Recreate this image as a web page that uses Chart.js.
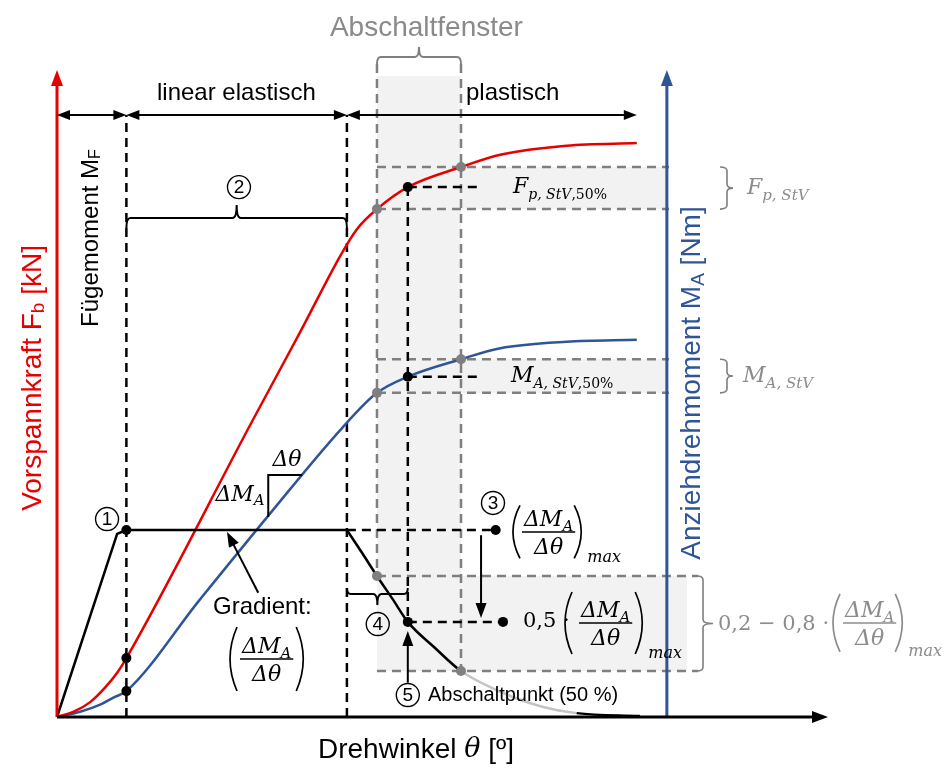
<!DOCTYPE html>
<html>
<head>
<meta charset="utf-8">
<script src="https://cdn.jsdelivr.net/npm/chart.js@4.4.1/dist/chart.umd.min.js"></script>
<style>
  html, body { margin: 0; padding: 0; background: #fff; }
  #wrap { width: 947px; height: 783px; }
</style>
</head>
<body>
<div id="wrap"><canvas id="tightening" width="947" height="783"></canvas></div>
<script>
// schematic curves (theta 0..100, value 0..100)
const redTheta = [0, 2.3, 4.3, 6.2, 7.9, 9, 25.4, 31.5, 36.8, 38.9, 41.5, 45.5, 52.4, 57.5, 66.1, 75.2];
const redForce = [0, 0.9, 2.3, 4.5, 7.0, 9.1, 45.9, 59.4, 71.4, 75.4, 78.5, 81.9, 85.0, 86.9, 88.3, 88.7];

const blueTheta = [0, 3.0, 5.6, 7.5, 9, 18.5, 27.6, 37.0, 41.5, 45.5, 52.4, 57.5, 66.1, 75.2];
const blueTorque = [0, 0.8, 1.9, 3.1, 4.0, 18.1, 31.4, 44.7, 50.1, 52.6, 55.3, 57.0, 58.0, 58.3];

const gradTheta = [0, 7.8, 9, 37.6, 39.6, 41.5, 43.6, 45.5, 49.0, 52.4, 57.5, 62.6, 67.4, 75.6];
const gradValue = [0, 28.3, 28.9, 28.9, 25.3, 21.8, 18.1, 14.7, 10.7, 7.1, 3.9, 1.7, 0.6, 0.15];

// marked angles
const jointTheta = 9;            // end of Fügemoment
const elasticEnd = 37.6;         // end of linear elastic range
const windowTheta = [41.5, 52.4]; // Abschaltfenster
const stopTheta = 45.5;          // Abschaltpunkt (50 %)
const curveEnd = 75.2;
const torqueAxis = 79.1;
const fadeEnd = 67.4;

const SANS = '"Liberation Sans", Arial, sans-serif';
const SERIF = '"DejaVu Serif", serif';
const RED = '#e60000', BLUE = '#2f5597', GREY = '#7f7f7f', SHADE = '#f2f2f2', LIGHT = '#c4c4c4';

function at(xs, ys, t) { return ys[xs.indexOf(t)]; }
function pts(xs, ys) { return xs.map((t, i) => ({ x: t, y: ys[i] })); }

const riseEnd = gradTheta.indexOf(elasticEnd);
const gradMax = at(gradTheta, gradValue, elasticEnd);

const blackDots = [
  { x: jointTheta, y: at(redTheta, redForce, jointTheta) },
  { x: jointTheta, y: at(blueTheta, blueTorque, jointTheta) },
  { x: jointTheta, y: at(gradTheta, gradValue, jointTheta) },
  { x: stopTheta, y: at(redTheta, redForce, stopTheta) },
  { x: stopTheta, y: at(blueTheta, blueTorque, stopTheta) },
  { x: stopTheta, y: at(gradTheta, gradValue, stopTheta) },
  { x: 56.9, y: gradMax },
  { x: 57.85, y: at(gradTheta, gradValue, stopTheta) }
];
const greyDots = [];
windowTheta.forEach(t => {
  greyDots.push({ x: t, y: at(redTheta, redForce, t) });
  greyDots.push({ x: t, y: at(blueTheta, blueTorque, t) });
  greyDots.push({ x: t, y: at(gradTheta, gradValue, t) });
});

// ---------- drawing helpers ----------
function seg(ctx, coords, color, width, dash) {
  ctx.save();
  ctx.strokeStyle = color; ctx.lineWidth = width; ctx.setLineDash(dash || []);
  ctx.beginPath();
  coords.forEach((p, i) => i ? ctx.lineTo(p[0], p[1]) : ctx.moveTo(p[0], p[1]));
  ctx.stroke();
  ctx.restore();
}

function head(ctx, x, y, ang, len, wid) {
  const c = Math.cos(ang), s = Math.sin(ang);
  ctx.beginPath();
  ctx.moveTo(x, y);
  ctx.lineTo(x - len * c + wid / 2 * s, y - len * s - wid / 2 * c);
  ctx.lineTo(x - len * c - wid / 2 * s, y - len * s + wid / 2 * c);
  ctx.closePath();
  ctx.fill();
}

function arrow(ctx, x1, y1, x2, y2, both, len, wid, color, width) {
  ctx.save();
  ctx.strokeStyle = color; ctx.fillStyle = color; ctx.lineWidth = width;
  const ang = Math.atan2(y2 - y1, x2 - x1);
  const c = Math.cos(ang), s = Math.sin(ang);
  const k = both ? len * 0.5 : 0;
  ctx.beginPath();
  ctx.moveTo(x1 + c * k, y1 + s * k);
  ctx.lineTo(x2 - c * len * 0.5, y2 - s * len * 0.5);
  ctx.stroke();
  head(ctx, x2, y2, ang, len, wid);
  if (both) head(ctx, x1, y1, ang + Math.PI, len, wid);
  ctx.restore();
}

function hbrace(ctx, x1, x2, ys, ye, yt, color, width) {
  const xm = (x1 + x2) / 2, r = 4;
  ctx.save();
  ctx.strokeStyle = color; ctx.lineWidth = width;
  ctx.beginPath();
  ctx.moveTo(x1, ye); ctx.quadraticCurveTo(x1, ys, x1 + r, ys);
  ctx.lineTo(xm - r, ys); ctx.quadraticCurveTo(xm, ys, xm, yt);
  ctx.quadraticCurveTo(xm, ys, xm + r, ys);
  ctx.lineTo(x2 - r, ys); ctx.quadraticCurveTo(x2, ys, x2, ye);
  ctx.stroke();
  ctx.restore();
}

function vbrace(ctx, y1, y2, xs, xe, xt, color, width) {
  const ym = (y1 + y2) / 2, r = 4;
  ctx.save();
  ctx.strokeStyle = color; ctx.lineWidth = width;
  ctx.beginPath();
  ctx.moveTo(xe, y1); ctx.quadraticCurveTo(xs, y1, xs, y1 + r);
  ctx.lineTo(xs, ym - r); ctx.quadraticCurveTo(xs, ym, xt, ym);
  ctx.quadraticCurveTo(xs, ym, xs, ym + r);
  ctx.lineTo(xs, y2 - r); ctx.quadraticCurveTo(xs, y2, xe, y2);
  ctx.stroke();
  ctx.restore();
}

// text pieces: [text, font, dy]
function runs(ctx, x, y, parts, color, align) {
  ctx.save();
  ctx.fillStyle = color; ctx.textAlign = 'left'; ctx.textBaseline = 'middle';
  let w = 0;
  parts.forEach(p => { ctx.font = p[1]; w += ctx.measureText(p[0]).width; });
  let cx = align === 'center' ? x - w / 2 : x;
  parts.forEach(p => {
    ctx.font = p[1];
    ctx.fillText(p[0], cx, y + (p[2] || 0));
    cx += ctx.measureText(p[0]).width;
  });
  ctx.restore();
  return w;
}

function rotated(ctx, x, y, parts, color) {
  ctx.save();
  ctx.translate(x, y);
  ctx.rotate(-Math.PI / 2);
  runs(ctx, 0, 0, parts, color, 'center');
  ctx.restore();
}

function circled(ctx, cx, cy, n) {
  ctx.save();
  ctx.strokeStyle = '#000'; ctx.lineWidth = 1.4;
  ctx.beginPath(); ctx.arc(cx, cy, 11.5, 0, 2 * Math.PI); ctx.stroke();
  ctx.fillStyle = '#000'; ctx.font = `19px ${SANS}`;
  ctx.textAlign = 'center'; ctx.textBaseline = 'middle';
  ctx.fillText(n, cx, cy + 1);
  ctx.restore();
}

function paren(ctx, x, ym, h, dir) {
  ctx.beginPath();
  ctx.moveTo(x + 7 * dir, ym - h / 2);
  ctx.quadraticCurveTo(x - 7 * dir, ym, x + 7 * dir, ym + h / 2);
  ctx.stroke();
}

// (ΔM_A / Δθ) with parentheses, x0 = leftmost point of the left parenthesis
function frac(ctx, x0, ym, h, gapL, gapR, color, withMax) {
  ctx.save();
  ctx.fillStyle = color; ctx.strokeStyle = color;
  const big = `italic 22px ${SERIF}`, sub = `italic 15px ${SERIF}`;
  ctx.font = big;
  const wDM = ctx.measureText('ΔM').width, wDt = ctx.measureText('Δθ').width;
  ctx.font = sub;
  const wA = ctx.measureText('A').width;
  const numW = wDM + wA, w = Math.max(numW, wDt) + 4;
  const xl = x0 + gapL, cx = xl + w / 2, xr = xl + w + gapR;
  ctx.lineWidth = 1.5;
  ctx.beginPath(); ctx.moveTo(xl, ym); ctx.lineTo(xl + w, ym); ctx.stroke();
  ctx.textAlign = 'left'; ctx.textBaseline = 'alphabetic';
  ctx.font = big; ctx.fillText('ΔM', cx - numW / 2, ym - 6);
  ctx.font = sub; ctx.fillText('A', cx - numW / 2 + wDM, ym - 1);
  ctx.font = big; ctx.fillText('Δθ', cx - wDt / 2, ym + 22);
  ctx.lineWidth = 1.7;
  paren(ctx, x0, ym, h, 1);
  paren(ctx, xr, ym, h, -1);
  if (withMax) {
    ctx.font = `italic 16px ${SERIF}`;
    ctx.fillText('max', xr + 6, ym + h / 2 + 4);
  }
  ctx.restore();
}

const sketch = {
  id: 'sketch',
  beforeDatasetsDraw(chart) {
    const { ctx, scales: { x, y } } = chart;
    const X = v => x.getPixelForValue(v), Y = v => y.getPixelForValue(v);
    const [wA, wB] = windowTheta;
    const fA = at(redTheta, redForce, wA), fB = at(redTheta, redForce, wB);
    const mA = at(blueTheta, blueTorque, wA), mB = at(blueTheta, blueTorque, wB);
    const gA = at(gradTheta, gradValue, wA), gB = at(gradTheta, gradValue, wB);
    const fS = at(redTheta, redForce, stopTheta), mS = at(blueTheta, blueTorque, stopTheta);
    const gS = at(gradTheta, gradValue, stopTheta);
    const box = (x1, y1, x2, y2) => ctx.fillRect(X(x1), Y(y2), X(x2) - X(x1), Y(y1) - Y(y2));

    ctx.save();
    ctx.fillStyle = SHADE;
    box(wA, gB, wB, 99.07);
    box(wA, fA, torqueAxis, fB);
    box(wA, mA, torqueAxis, mB);
    box(wA, gB, 81.71, gA);
    ctx.restore();

    const gd = [9, 6];
    seg(ctx, [[X(wA), Y(100.93)], [X(wA), Y(gA)]], GREY, 2.5, gd);
    seg(ctx, [[X(wB), Y(100.93)], [X(wB), Y(gB)]], GREY, 2.5, gd);
    [fA, fB, mA, mB].forEach(v => seg(ctx, [[X(wA), Y(v)], [X(79.38), Y(v)]], GREY, 2.5, gd));
    [gA, gB].forEach(v => seg(ctx, [[X(wA), Y(v)], [X(83.14), Y(v)]], GREY, 2.5, gd));

    const bd = [9, 6];
    seg(ctx, [[X(jointTheta), Y(0)], [X(jointTheta), Y(93.05)]], '#000', 2.5, bd);
    seg(ctx, [[X(elasticEnd), Y(0)], [X(elasticEnd), Y(93.05)]], '#000', 2.5, bd);
    seg(ctx, [[X(stopTheta), Y(fS)], [X(stopTheta), Y(gS)]], '#000', 2.5, bd);
    seg(ctx, [[X(stopTheta), Y(fS)], [X(55.12), Y(fS)]], '#000', 2.5, bd);
    seg(ctx, [[X(stopTheta), Y(mS)], [X(55.12), Y(mS)]], '#000', 2.5, bd);
    seg(ctx, [[X(elasticEnd), Y(gradMax)], [X(56.9), Y(gradMax)]], '#000', 2.5, bd);
    seg(ctx, [[X(stopTheta), Y(gS)], [X(57.85), Y(gS)]], '#000', 2.5, bd);
  },
  afterDatasetsDraw(chart) {
    const { ctx, scales: { x, y } } = chart;
    const X = v => x.getPixelForValue(v), Y = v => y.getPixelForValue(v);
    const [wA, wB] = windowTheta;
    const fA = at(redTheta, redForce, wA), fB = at(redTheta, redForce, wB);
    const mA = at(blueTheta, blueTorque, wA), mB = at(blueTheta, blueTorque, wB);
    const gA = at(gradTheta, gradValue, wA), gB = at(gradTheta, gradValue, wB);
    const fS = at(redTheta, redForce, stopTheta), mS = at(blueTheta, blueTorque, stopTheta);
    const gS = at(gradTheta, gradValue, stopTheta);

    // axes
    arrow(ctx, X(0), Y(0), X(0), Y(100), false, 16, 12, RED, 3);
    arrow(ctx, X(torqueAxis), Y(0), X(torqueAxis), Y(100), false, 16, 12, BLUE, 3);
    arrow(ctx, X(0), Y(0), X(100), Y(0), false, 16, 12, '#000', 3);

    // ranges
    arrow(ctx, X(0), Y(93.05), X(jointTheta), Y(93.05), true, 13, 10, '#000', 2);
    arrow(ctx, X(jointTheta), Y(93.05), X(elasticEnd), Y(93.05), true, 13, 10, '#000', 2);
    arrow(ctx, X(elasticEnd), Y(93.05), X(curveEnd), Y(93.05), true, 13, 10, '#000', 2);

    // braces
    hbrace(ctx, X(wA), X(wB), Y(102.0), Y(100.93), Y(103.55), GREY, 2);
    hbrace(ctx, X(jointTheta), X(elasticEnd), Y(77.13), Y(75.58), Y(79.13), '#000', 2);
    hbrace(ctx, X(elasticEnd), X(stopTheta), Y(19.01), Y(19.94), Y(17.31), '#000', 2);
    vbrace(ctx, Y(fB), Y(fA), X(86.9), X(85.99), X(87.68), GREY, 1.6);
    vbrace(ctx, Y(mB), Y(mA), X(86.9), X(85.99), X(87.68), GREY, 1.6);
    vbrace(ctx, Y(gA), Y(gB), X(83.79), X(83.0), X(85.08), GREY, 1.6);

    // slope triangle
    seg(ctx, [[X(27.4), Y(30.9)], [X(27.4), Y(37.4)], [X(31.8), Y(37.4)]], '#000', 2);

    // pointers
    arrow(ctx, X(26.1), Y(19.2), X(22.05), Y(28.6), false, 15, 11, '#000', 2);
    arrow(ctx, X(stopTheta), Y(5.3), X(stopTheta), Y(13.3), false, 15, 11, '#000', 2);
    arrow(ctx, X(55.0), Y(28.1), X(55.0), Y(15.3), false, 15, 11, '#000', 2);

    // numbered steps
    circled(ctx, X(6.49), Y(30.6), '1');
    circled(ctx, X(23.6), Y(81.9), '2');
    circled(ctx, X(56.55), Y(33.08), '3');
    circled(ctx, X(41.6), Y(14.37), '4');
    circled(ctx, X(45.5), Y(3.4), '5');

    // texts
    runs(ctx, X(35.4), Y(106.5), [['Abschaltfenster', `28px ${SANS}`]], '#8a8a8a');
    runs(ctx, X(12.97), Y(96.45), [['linear elastisch', `24px ${SANS}`]], '#000');
    runs(ctx, X(53.05), Y(96.45), [['plastisch', `24px ${SANS}`]], '#000');
    runs(ctx, X(20.23), Y(17.0), [['Gradient:', `24px ${SANS}`]], '#000');
    runs(ctx, X(48.12), Y(3.4), [['Abschaltpunkt (50 %)', `20px ${SANS}`]], '#000');
    runs(ctx, X(33.85), Y(-5.1), [['Drehwinkel ', `28px ${SANS}`], ['θ', `italic 27px ${SERIF}`], [' [º]', `28px ${SANS}`]], '#000');

    runs(ctx, X(29.83), Y(39.72), [['Δθ', `italic 22px ${SERIF}`]], '#000', 'center');
    runs(ctx, X(23.74), Y(34.31), [['ΔM', `italic 22px ${SERIF}`], ['A', `italic 15px ${SERIF}`, 6]], '#000', 'center');

    runs(ctx, X(59.14), Y(fS), [['F', `italic 22px ${SERIF}`], ['p, StV', `italic 14px ${SERIF}`, 8], [',50%', `14px ${SERIF}`, 8]], '#000');
    runs(ctx, X(58.88), Y(mS), [['M', `italic 22px ${SERIF}`], ['A, StV', `italic 14px ${SERIF}`, 8], [',50%', `14px ${SERIF}`, 8]], '#000');
    runs(ctx, X(89.49), Y((fA + fB) / 2), [['F', `italic 22px ${SERIF}`], ['p, StV', `italic 15px ${SERIF}`, 8]], '#8c8c8c');
    runs(ctx, X(88.98), Y((mA + mB) / 2), [['M', `italic 22px ${SERIF}`], ['A, StV', `italic 15px ${SERIF}`, 8]], '#8c8c8c');

    frac(ctx, X(22.44), Y(8.96), 64, 10, 10, '#000', false);
    frac(ctx, X(59.14), Y(28.6), 53, 9, 6, '#000', true);
    runs(ctx, X(60.44), Y(gS), [['0,5 ·', `21px ${SERIF}`]], '#000');
    frac(ctx, X(65.89), Y(14.53), 62, 14, 10, '#000', true);
    runs(ctx, X(85.73), Y(14.22), [['0,2 − 0,8 ·', `21px ${SERIF}`]], '#8c8c8c');
    frac(ctx, X(100.65), Y(14.53), 58, 10, 6, '#8c8c8c', true);

    // axis titles
    rotated(ctx, X(-3.11), Y(52.4), [['Vorspannkraft F', `28px ${SANS}`], ['b', `19px ${SANS}`, 6], [' [kN]', `28px ${SANS}`]], RED);
    rotated(ctx, X(4.41), Y(74.03), [['Fügemoment M', `24px ${SANS}`], ['F', `16px ${SANS}`, 5]], '#000');
    rotated(ctx, X(82.43), Y(51.62), [['Anziehdrehmoment M', `28px ${SANS}`], ['A', `19px ${SANS}`, 6], [' [Nm]', `28px ${SANS}`]], BLUE);
  }
};

new Chart(document.getElementById('tightening'), {
  type: 'line',
  data: {
    datasets: [
      { data: blackDots, type: 'scatter', showLine: false, pointRadius: 5, pointBackgroundColor: '#000', pointBorderWidth: 0, order: 0 },
      { data: greyDots, type: 'scatter', showLine: false, pointRadius: 5, pointBackgroundColor: GREY, pointBorderWidth: 0, order: 0 },
      { data: pts(redTheta, redForce), borderColor: RED, borderWidth: 2.5, cubicInterpolationMode: 'monotone', pointRadius: 0, clip: false, order: 2 },
      { data: pts(blueTheta, blueTorque), borderColor: BLUE, borderWidth: 2.5, cubicInterpolationMode: 'monotone', pointRadius: 0, clip: false, order: 2 },
      { data: pts(gradTheta.slice(0, riseEnd + 1), gradValue.slice(0, riseEnd + 1)), borderColor: '#000', borderWidth: 2.5, tension: 0, borderJoinStyle: 'round', pointRadius: 0, clip: false, order: 1 },
      {
        data: pts(gradTheta.slice(riseEnd), gradValue.slice(riseEnd)), borderColor: '#000', borderWidth: 2.5,
        cubicInterpolationMode: 'monotone', pointRadius: 0, clip: false, order: 1,
        segment: { borderColor: c => (c.p0.parsed.x >= windowTheta[1] && c.p1.parsed.x <= fadeEnd) ? LIGHT : '#000' }
      }
    ]
  },
  options: {
    responsive: false,
    animation: false,
    layout: { padding: { left: 57, right: 119, top: 70, bottom: 66 } },
    scales: {
      x: { type: 'linear', min: 0, max: 100, display: false },
      y: { type: 'linear', min: 0, max: 100, display: false }
    },
    plugins: { legend: { display: false }, tooltip: { enabled: false } }
  },
  plugins: [sketch]
});
</script>
</body>
</html>
